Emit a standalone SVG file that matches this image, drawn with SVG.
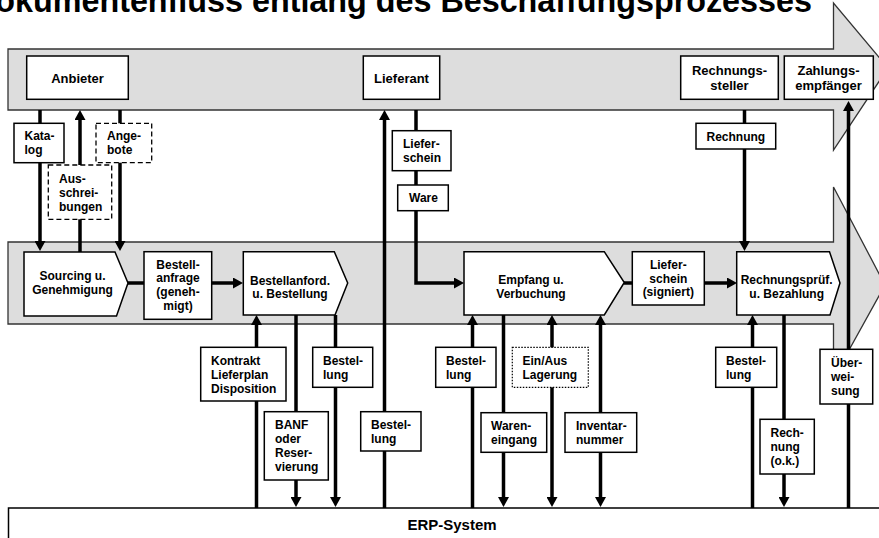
<svg xmlns="http://www.w3.org/2000/svg" width="879" height="538" viewBox="0 0 879 538">
  <defs>
    <marker id="ah" viewBox="0 0 10 11" refX="1" refY="5.5" markerWidth="10" markerHeight="11" markerUnits="userSpaceOnUse" orient="auto-start-reverse">
      <path d="M0,0 L10,5.5 L0,11 Z" fill="#000"/>
    </marker>
    <style>
      text { font-family: "Liberation Sans", Arial, sans-serif; font-weight: bold; fill: #000; }
      .title { font-size: 32.3px; }
      .actor { font-size: 13px; text-anchor: middle; }
      .proc { font-size: 12px; text-anchor: middle; }
      .doc { font-size: 12px; }
      .erp { font-size: 15px; text-anchor: middle; }
      .lane { fill: #dddddd; stroke: #333; stroke-width: 1.3; }
      .box { fill: #fff; stroke: #000; stroke-width: 1.5; }
      .dashed { fill: #fff; stroke: #000; stroke-width: 1.3; stroke-dasharray: 5 3; }
      .dotted { fill: #fff; stroke: #000; stroke-width: 1.2; stroke-dasharray: 1.5 1.5; }
      .flow { fill: none; stroke: #000; stroke-width: 3.5; }
      .one { marker-end: url(#ah); }
      .two { marker-start: url(#ah); marker-end: url(#ah); }
    </style>
  </defs>

  <!-- heading -->
  <text class="title" x="-28" y="12">Dokumentenfluss entlang des Beschaffungsprozesses</text>

  <!-- process lanes -->
  <g id="lane-partner">
    <path class="lane" d="M8,49 H833.5 V3 L888,68 L833.5,150 V110 H8 Z"/>
  </g>
  <g id="lane-internal">
    <path class="lane" d="M8,242 H833.5 V187 L885,285 L833.5,378 V324 H8 Z"/>
  </g>

  <!-- ERP system -->
  <g id="erp">
    <rect class="box" x="8.5" y="508" width="900" height="60"/>
    <text class="erp" x="452" y="530">ERP-System</text>
  </g>

  <!-- connectors -->
  <g id="connectors">
    <path class="flow one" d="M40,110 V242"/>
    <path class="flow one" d="M80,252 V119"/>
    <path class="flow one" d="M120,110 V242"/>
    <path class="flow one" d="M384.5,508 V119"/>
    <path class="flow one" d="M416,110 V283 H455"/>
    <path class="flow one" d="M744.5,110 V242"/>
    <path class="flow one" d="M848.5,508 V110"/>
    <path class="flow" d="M128,283 H144"/>
    <path class="flow one" d="M212,283 H234"/>
    <path class="flow" d="M624,283 H632"/>
    <path class="flow one" d="M704,283 H728"/>
    <path class="flow one" d="M256.5,508 V324"/>
    <path class="flow one" d="M296,315 V498"/>
    <path class="flow one" d="M335.5,315 V498"/>
    <path class="flow one" d="M472.5,508 V324"/>
    <path class="flow one" d="M503.5,315 V498"/>
    <path class="flow two" d="M552,324 V498"/>
    <path class="flow two" d="M600.5,324 V498"/>
    <path class="flow one" d="M752.5,508 V324"/>
    <path class="flow one" d="M784,315 V498"/>
  </g>

  <!-- partners -->
  <g id="anbieter">
    <rect class="box" x="26.7" y="56" width="101.6" height="43.3"/>
    <text class="actor" x="77.5" y="83">Anbieter</text>
  </g>
  <g id="lieferant">
    <rect class="box" x="363.3" y="56" width="76.4" height="43.3"/>
    <text class="actor" x="401.5" y="82.6">Lieferant</text>
  </g>
  <g id="rechnungssteller">
    <rect class="box" x="680.7" y="56" width="97.6" height="43.3"/>
    <text class="actor" x="729.5" y="74.5">Rechnungs-</text>
    <text class="actor" x="729.5" y="89.5">steller</text>
  </g>
  <g id="zahlungsempfaenger">
    <rect class="box" x="784.3" y="56" width="89" height="43.3"/>
    <text class="actor" x="828.5" y="75">Zahlungs-</text>
    <text class="actor" x="828.5" y="89.5">empfänger</text>
  </g>

  <!-- process steps -->
  <g id="sourcing">
    <path class="box" d="M24,252 H115 L128,283 L116.5,316 H24 Z"/>
    <text class="proc" x="72.5" y="280">Sourcing u.</text>
    <text class="proc" x="72.5" y="293.5">Genehmigung</text>
  </g>
  <g id="bestellanfrage">
    <rect class="box" x="144" y="251.7" width="67.7" height="67.6"/>
    <text class="proc" x="178" y="268.7">Bestell-</text>
    <text class="proc" x="178" y="282.3">anfrage</text>
    <text class="proc" x="178" y="296">(geneh-</text>
    <text class="proc" x="178" y="309.6">migt)</text>
  </g>
  <g id="bestellanforderung">
    <path class="box" d="M243.3,251.7 H334.3 L347.7,283 L335,315 H243.3 Z"/>
    <text class="proc" x="290" y="284.5">Bestellanford.</text>
    <text class="proc" x="290" y="298">u. Bestellung</text>
  </g>
  <g id="empfang">
    <path class="box" d="M464,251.7 H604.3 L624.3,282.5 L604.3,315 H464 Z"/>
    <text class="proc" x="531" y="284.3">Empfang u.</text>
    <text class="proc" x="531" y="298">Verbuchung</text>
  </g>
  <g id="lieferschein-signiert">
    <rect class="box" x="632.3" y="251.7" width="72" height="53.3"/>
    <text class="proc" x="668.3" y="269">Liefer-</text>
    <text class="proc" x="668.3" y="282.7">schein</text>
    <text class="proc" x="668.3" y="296.4">(signiert)</text>
  </g>
  <g id="rechnungspruefung">
    <path class="box" d="M736.7,251.7 H829.5 L840,283 L830,315 H736.7 Z"/>
    <text class="proc" x="786.7" y="283.6">Rechnungsprüf.</text>
    <text class="proc" x="786.7" y="297.5">u. Bezahlung</text>
  </g>

  <!-- documents between partners and process -->
  <g id="doc-katalog">
    <rect class="box" x="14" y="123.3" width="50" height="39.4"/>
    <text class="doc" x="24.5" y="140.3">Kata-</text>
    <text class="doc" x="24.5" y="154.3">log</text>
  </g>
  <g id="doc-ausschreibungen">
    <rect class="dashed" x="48.3" y="165" width="63.4" height="54.3"/>
    <text class="doc" x="59" y="182.5">Aus-</text>
    <text class="doc" x="59" y="196.5">schrei-</text>
    <text class="doc" x="59" y="210.5">bungen</text>
  </g>
  <g id="doc-angebote">
    <rect class="dashed" x="96" y="123.3" width="55.7" height="39.4"/>
    <text class="doc" x="107" y="140.3">Ange-</text>
    <text class="doc" x="107" y="154.3">bote</text>
  </g>
  <g id="doc-lieferschein">
    <rect class="box" x="392.3" y="130.7" width="58.7" height="40"/>
    <text class="doc" x="403" y="148">Liefer-</text>
    <text class="doc" x="403" y="162">schein</text>
  </g>
  <g id="doc-ware">
    <rect class="box" x="397.7" y="185" width="50.6" height="25.7"/>
    <text class="doc" x="409" y="202.1">Ware</text>
  </g>
  <g id="doc-rechnung">
    <rect class="box" x="696" y="123.3" width="79.7" height="25.7"/>
    <text class="doc" x="706.5" y="140.5">Rechnung</text>
  </g>

  <!-- documents between process and ERP -->
  <g id="doc-kontrakt">
    <rect class="box" x="200.7" y="347.3" width="85.3" height="53.7"/>
    <text class="doc" x="211" y="364.5">Kontrakt</text>
    <text class="doc" x="211" y="378.5">Lieferplan</text>
    <text class="doc" x="211" y="392.5">Disposition</text>
  </g>
  <g id="doc-banf">
    <rect class="box" x="264.3" y="411.7" width="64" height="68.3"/>
    <text class="doc" x="275" y="429.1">BANF</text>
    <text class="doc" x="275" y="443.1">oder</text>
    <text class="doc" x="275" y="457.1">Reser-</text>
    <text class="doc" x="275" y="471.1">vierung</text>
  </g>
  <g id="doc-bestellung-1">
    <rect class="box" x="312.7" y="347.3" width="60" height="40"/>
    <text class="doc" x="323" y="364.6">Bestel-</text>
    <text class="doc" x="323" y="378.6">lung</text>
  </g>
  <g id="doc-bestellung-2">
    <rect class="box" x="360.7" y="411.7" width="60.3" height="39.3"/>
    <text class="doc" x="371" y="428.6">Bestel-</text>
    <text class="doc" x="371" y="442.6">lung</text>
  </g>
  <g id="doc-bestellung-3">
    <rect class="box" x="435.7" y="347.3" width="60.3" height="40"/>
    <text class="doc" x="446" y="364.6">Bestel-</text>
    <text class="doc" x="446" y="378.6">lung</text>
  </g>
  <g id="doc-wareneingang">
    <rect class="box" x="481" y="412.7" width="65.7" height="39.6"/>
    <text class="doc" x="491" y="429.8">Waren-</text>
    <text class="doc" x="491" y="443.8">eingang</text>
  </g>
  <g id="doc-einaus">
    <rect class="dotted" x="512.3" y="347.3" width="76" height="40"/>
    <text class="doc" x="522.5" y="364.6">Ein/Aus</text>
    <text class="doc" x="522.5" y="378.6">Lagerung</text>
  </g>
  <g id="doc-inventar">
    <rect class="box" x="565" y="412.7" width="71.7" height="39.6"/>
    <text class="doc" x="576" y="429.8">Inventar-</text>
    <text class="doc" x="576" y="443.8">nummer</text>
  </g>
  <g id="doc-bestellung-4">
    <rect class="box" x="715.7" y="347.3" width="61" height="40"/>
    <text class="doc" x="726" y="364.6">Bestel-</text>
    <text class="doc" x="726" y="378.6">lung</text>
  </g>
  <g id="doc-rechnung-ok">
    <rect class="box" x="760" y="419.3" width="54.3" height="54.7"/>
    <text class="doc" x="770.5" y="437">Rech-</text>
    <text class="doc" x="770.5" y="451">nung</text>
    <text class="doc" x="770.5" y="465">(o.k.)</text>
  </g>
  <g id="doc-ueberweisung">
    <rect class="box" x="820" y="349.3" width="52.7" height="54.7"/>
    <text class="doc" x="831" y="367">Über-</text>
    <text class="doc" x="831" y="381">wei-</text>
    <text class="doc" x="831" y="395">sung</text>
  </g>
</svg>
